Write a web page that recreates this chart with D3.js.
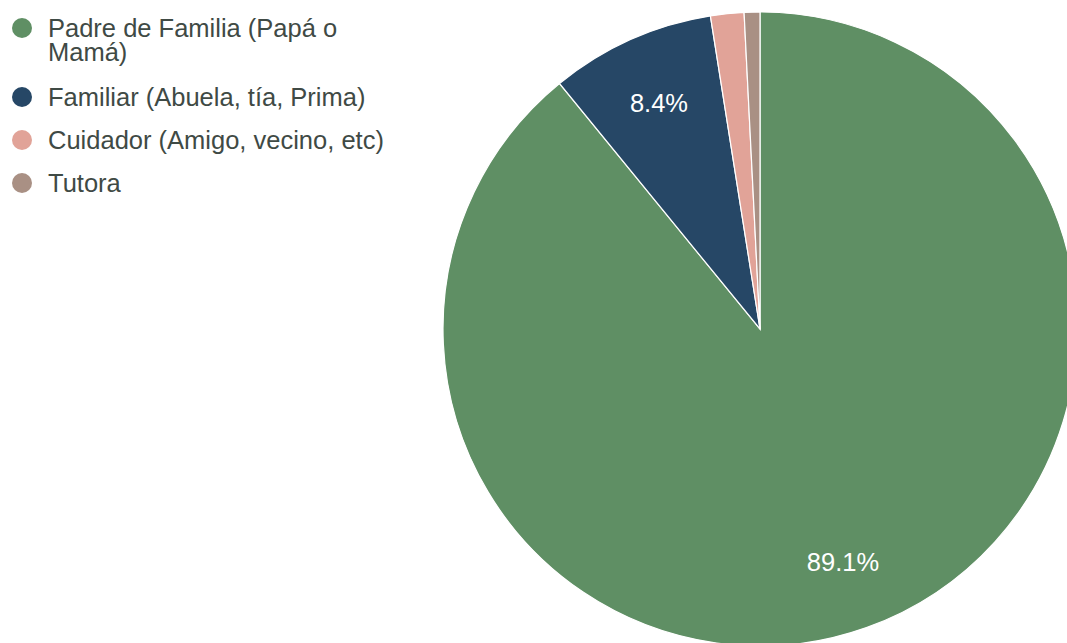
<!DOCTYPE html>
<html>
<head>
<meta charset="utf-8">
<script src="https://cdn.jsdelivr.net/npm/d3@7"></script>
<style>
  body { margin: 0; background: #fff; }
  svg { display: block; font-family: "Liberation Sans", Arial, sans-serif; }
</style>
</head>
<body>
<svg id="chart" width="1067" height="643"></svg>
<script>
var categories = ["Padre de Familia (Papá o Mamá)", "Familiar (Abuela, tía, Prima)", "Cuidador (Amigo, vecino, etc)", "Tutora"];
var legendLines = [["Padre de Familia (Papá o", "Mamá)"], ["Familiar (Abuela, tía, Prima)"], ["Cuidador (Amigo, vecino, etc)"], ["Tutora"]];
var values = [89.1, 8.4, 1.7, 0.8];
var colors = ["#5f8f64", "#264766", "#e1a398", "#a99084"];

var svg = d3.select("#chart");
var cx = 760, cy = 329, radius = 317;

var pie = d3.pie().sort(null).value(function(d){ return d; });
var arcs = pie(values);
var arc = d3.arc().innerRadius(0).outerRadius(radius);
var labelArc = d3.arc().innerRadius(radius * 0.78).outerRadius(radius * 0.78);

var g = svg.append("g").attr("transform", "translate(" + cx + "," + cy + ")");

g.selectAll("path")
    .data(arcs)
    .enter().append("path")
    .attr("d", arc)
    .attr("fill", function(d, i){ return colors[i]; })
    .attr("stroke", "#fff")
    .attr("stroke-width", 1.2);

//only slices big enough get a label
g.selectAll("text.pct")
    .data(arcs.filter(function(d){ return d.data > 5; }))
    .enter().append("text")
    .attr("class", "pct")
    .attr("transform", function(d){ return "translate(" + labelArc.centroid(d) + ")"; })
    .attr("text-anchor", "middle")
    .attr("dy", "0.35em")
    .attr("fill", "#fff")
    .attr("font-size", 25.5)
    .text(function(d){ return d.data.toFixed(1) + "%"; });

// legend
var rowY = [28, 97, 140, 183];
var legend = svg.append("g");
categories.forEach(function(c, i){
    var row = legend.append("g").attr("transform", "translate(0," + rowY[i] + ")");
    row.append("circle")
        .attr("cx", 22)
        .attr("cy", 0)
        .attr("r", 10)
        .attr("fill", colors[i]);
    var t = row.append("text")
        .attr("x", 48)
        .attr("y", 0)
        .attr("fill", "#3f4a45")
        .attr("font-size", 25.5);
    legendLines[i].forEach(function(line, k){
        t.append("tspan")
            .attr("x", 48)
            .attr("dy", k == 0 ? "0.35em" : 24)
            .text(line);
    });
});
</script>
</body>
</html>
